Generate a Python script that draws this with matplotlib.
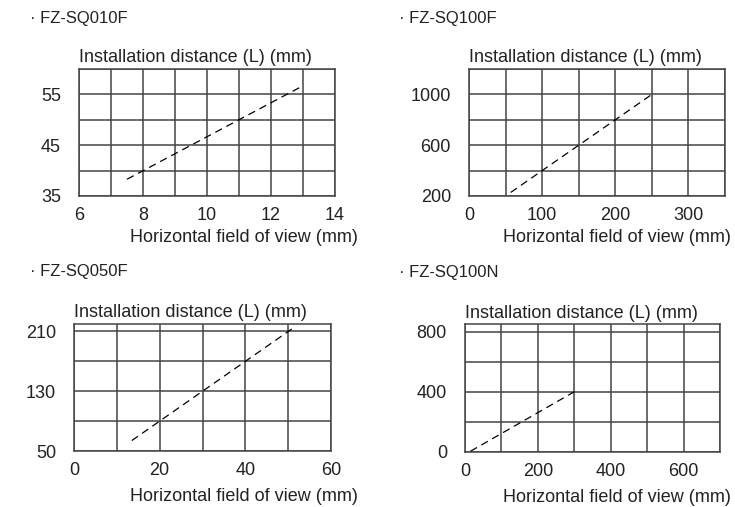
import numpy as np
import matplotlib
matplotlib.use('Agg')
import matplotlib.pyplot as plt

plt.rcParams['font.family'] = ['Liberation Sans', 'DejaVu Sans']
plt.rcParams['font.size'] = 13

# data
titles = ['FZ-SQ010F', 'FZ-SQ100F', 'FZ-SQ050F', 'FZ-SQ100N']

fov_010f = [7.5, 13.0]
dist_010f = [38.3, 56.7]

fov_100f = [57, 250]
dist_100f = [228, 1000]

fov_050f = [13.5, 51]
dist_050f = [64, 214]

fov_100n = [15, 300]
dist_100n = [5, 400]

xlims = [(6, 14), (0, 350), (0, 60), (0, 700)]
ylims = [(35, 60), (200, 1200), (50, 220), (0, 850)]
xgrid = [np.arange(6, 15, 1), np.arange(0, 351, 50), np.arange(0, 61, 10), np.arange(0, 701, 100)]
ygrid = [np.arange(35, 61, 5), np.arange(200, 1201, 200), [50, 90, 130, 170, 210], [0, 200, 400, 600, 800]]
xticks = [[6, 8, 10, 12, 14], [0, 100, 200, 300], [0, 20, 40, 60], [0, 200, 400, 600]]
yticks = [[35, 45, 55], [200, 600, 1000], [50, 130, 210], [0, 400, 800]]
series = [(fov_010f, dist_010f), (fov_100f, dist_100f), (fov_050f, dist_050f), (fov_100n, dist_100n)]

W, H = 735, 507
fig = plt.figure(figsize=(W / 100, H / 100), dpi=100)

# axes boxes in pixels: left, top, right, bottom
boxes = [(79, 69, 335, 196), (469, 69, 725, 196), (74, 324, 331, 451), (465, 324, 720, 452)]
# text anchors in pixels (baselines)
title_pos = [(30, 23), (399, 23), (30, 276), (399, 277)]
ylab_pos = [(79, 62), (469, 62), (74, 317), (465, 318)]
xlab_pos = [(358, 242), (731, 242), (358, 501), (731, 502)]
grid_col = '#444444'

for i in range(4):
    l, t, r, b = boxes[i]
    ax = fig.add_axes([l / W, 1 - b / H, (r - l) / W, (b - t) / H])
    ax.set_xlim(*xlims[i])
    ax.set_ylim(*ylims[i])
    for gx in xgrid[i]:
        ax.axvline(gx, color=grid_col, lw=1.1, zorder=1)
    for gy in ygrid[i]:
        ax.axhline(gy, color=grid_col, lw=1.1, zorder=1)
    ax.plot(series[i][0], series[i][1], color='black', lw=0.9,
            dashes=(6, 4), zorder=2)
    ax.set_xticks(xticks[i])
    ax.set_yticks(yticks[i])
    ax.tick_params(length=0, pad=8, labelsize=13, labelcolor='#222222')
    ax.tick_params(axis='y', pad=13)
    for s in ax.spines.values():
        s.set_color(grid_col)
        s.set_linewidth(1.1)

    tx, ty = title_pos[i]
    fig.text(tx / W, 1 - ty / H, '\u00b7 ' + titles[i], fontsize=12,
             va='baseline', ha='left', color='#222222')
    yx, yy = ylab_pos[i]
    fig.text(yx / W, 1 - yy / H, 'Installation distance (L) (mm)', fontsize=13,
             va='baseline', ha='left', color='#222222')
    xx, xy = xlab_pos[i]
    fig.text(xx / W, 1 - xy / H, 'Horizontal field of view (mm)', fontsize=13,
             va='baseline', ha='right', color='#222222')

fig.savefig('out.png', dpi=100)
